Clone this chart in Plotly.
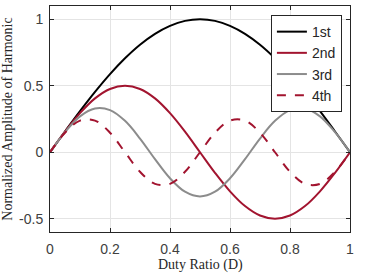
import plotly.graph_objects as go

duty = [0.0, 0.05, 0.1, 0.15, 0.2, 0.25, 0.3, 0.35, 0.4, 0.45, 0.5,
        0.55, 0.6, 0.65, 0.7, 0.75, 0.8, 0.85, 0.9, 0.95, 1.0]
h1 = [0.0, 0.156, 0.309, 0.454, 0.588, 0.707, 0.809, 0.891, 0.951, 0.988, 1.0,
      0.988, 0.951, 0.891, 0.809, 0.707, 0.588, 0.454, 0.309, 0.156, 0.0]
h2 = [0.0, 0.155, 0.294, 0.405, 0.476, 0.5, 0.476, 0.405, 0.294, 0.155, 0.0,
      -0.155, -0.294, -0.405, -0.476, -0.5, -0.476, -0.405, -0.294, -0.155, 0.0]
h3 = [0.0, 0.151, 0.270, 0.329, 0.317, 0.236, 0.103, -0.052, -0.196, -0.297, -0.333,
      -0.297, -0.196, -0.052, 0.103, 0.236, 0.317, 0.329, 0.270, 0.151, 0.0]
h4 = [0.0, 0.147, 0.238, 0.238, 0.147, 0.0, -0.147, -0.238, -0.238, -0.147, 0.0,
      0.147, 0.238, 0.238, 0.147, 0.0, -0.147, -0.238, -0.238, -0.147, 0.0]
names = ["1st", "2nd", "3rd", "4th"]
colors = ["#000000", "#A2142F", "#8c8c8c", "#A2142F"]
dashes = ["solid", "solid", "solid", "dash"]
x_ticks = [0, 0.2, 0.4, 0.6, 0.8, 1]
x_labels = ["0", "0.2", "0.4", "0.6", "0.8", "1"]
y_ticks = [-0.5, 0, 0.5, 1]
y_labels = ["-0.5", "0", "0.5", "1"]
x_title = "Duty Ratio (D)"
y_title = "Normalized Amplitude of Harmonic"

fig = go.Figure()
for name, ys, c, d in zip(names, [h1, h2, h3, h4], colors, dashes):
    fig.add_trace(go.Scatter(x=duty, y=ys, name=name, mode="lines",
                             line=dict(color=c, width=2, dash=d, shape="spline", smoothing=1)))

title_font = dict(family="Liberation Serif, Times New Roman", size=14, color="#262626")
axis_common = dict(showline=True, linecolor="#262626", linewidth=1, mirror="ticks",
                   ticks="inside", ticklen=4, tickcolor="#262626", automargin=False,
                   showgrid=True, gridcolor="#e4e4e4", gridwidth=1, zeroline=False,
                   tickfont=dict(family="Liberation Sans, Arial", size=14, color="#404040"))
fig.update_xaxes(range=[0, 1], tickvals=x_ticks, ticktext=x_labels, ticklabelstandoff=4,
                 **axis_common)
fig.update_yaxes(range=[-0.6, 1.1], tickvals=y_ticks, ticktext=y_labels, ticklabelstandoff=3,
                 title=dict(text=y_title, font=title_font), **axis_common)
fig.add_annotation(text=x_title, xref="paper", yref="paper", x=0.5, y=0,
                   xanchor="center", yanchor="top", yshift=-23, showarrow=False,
                   font=title_font)
fig.update_layout(width=377, height=273, margin=dict(l=50, r=27, t=6, b=41),
                  paper_bgcolor="white", plot_bgcolor="white",
                  legend=dict(x=0.973, y=0.96, xanchor="right", yanchor="top",
                              bgcolor="white", bordercolor="#262626", borderwidth=1,
                              font=dict(family="Liberation Sans, Arial", size=14, color="#262626"),
                              tracegroupgap=0, itemwidth=30))
fig.write_html("out.html")
